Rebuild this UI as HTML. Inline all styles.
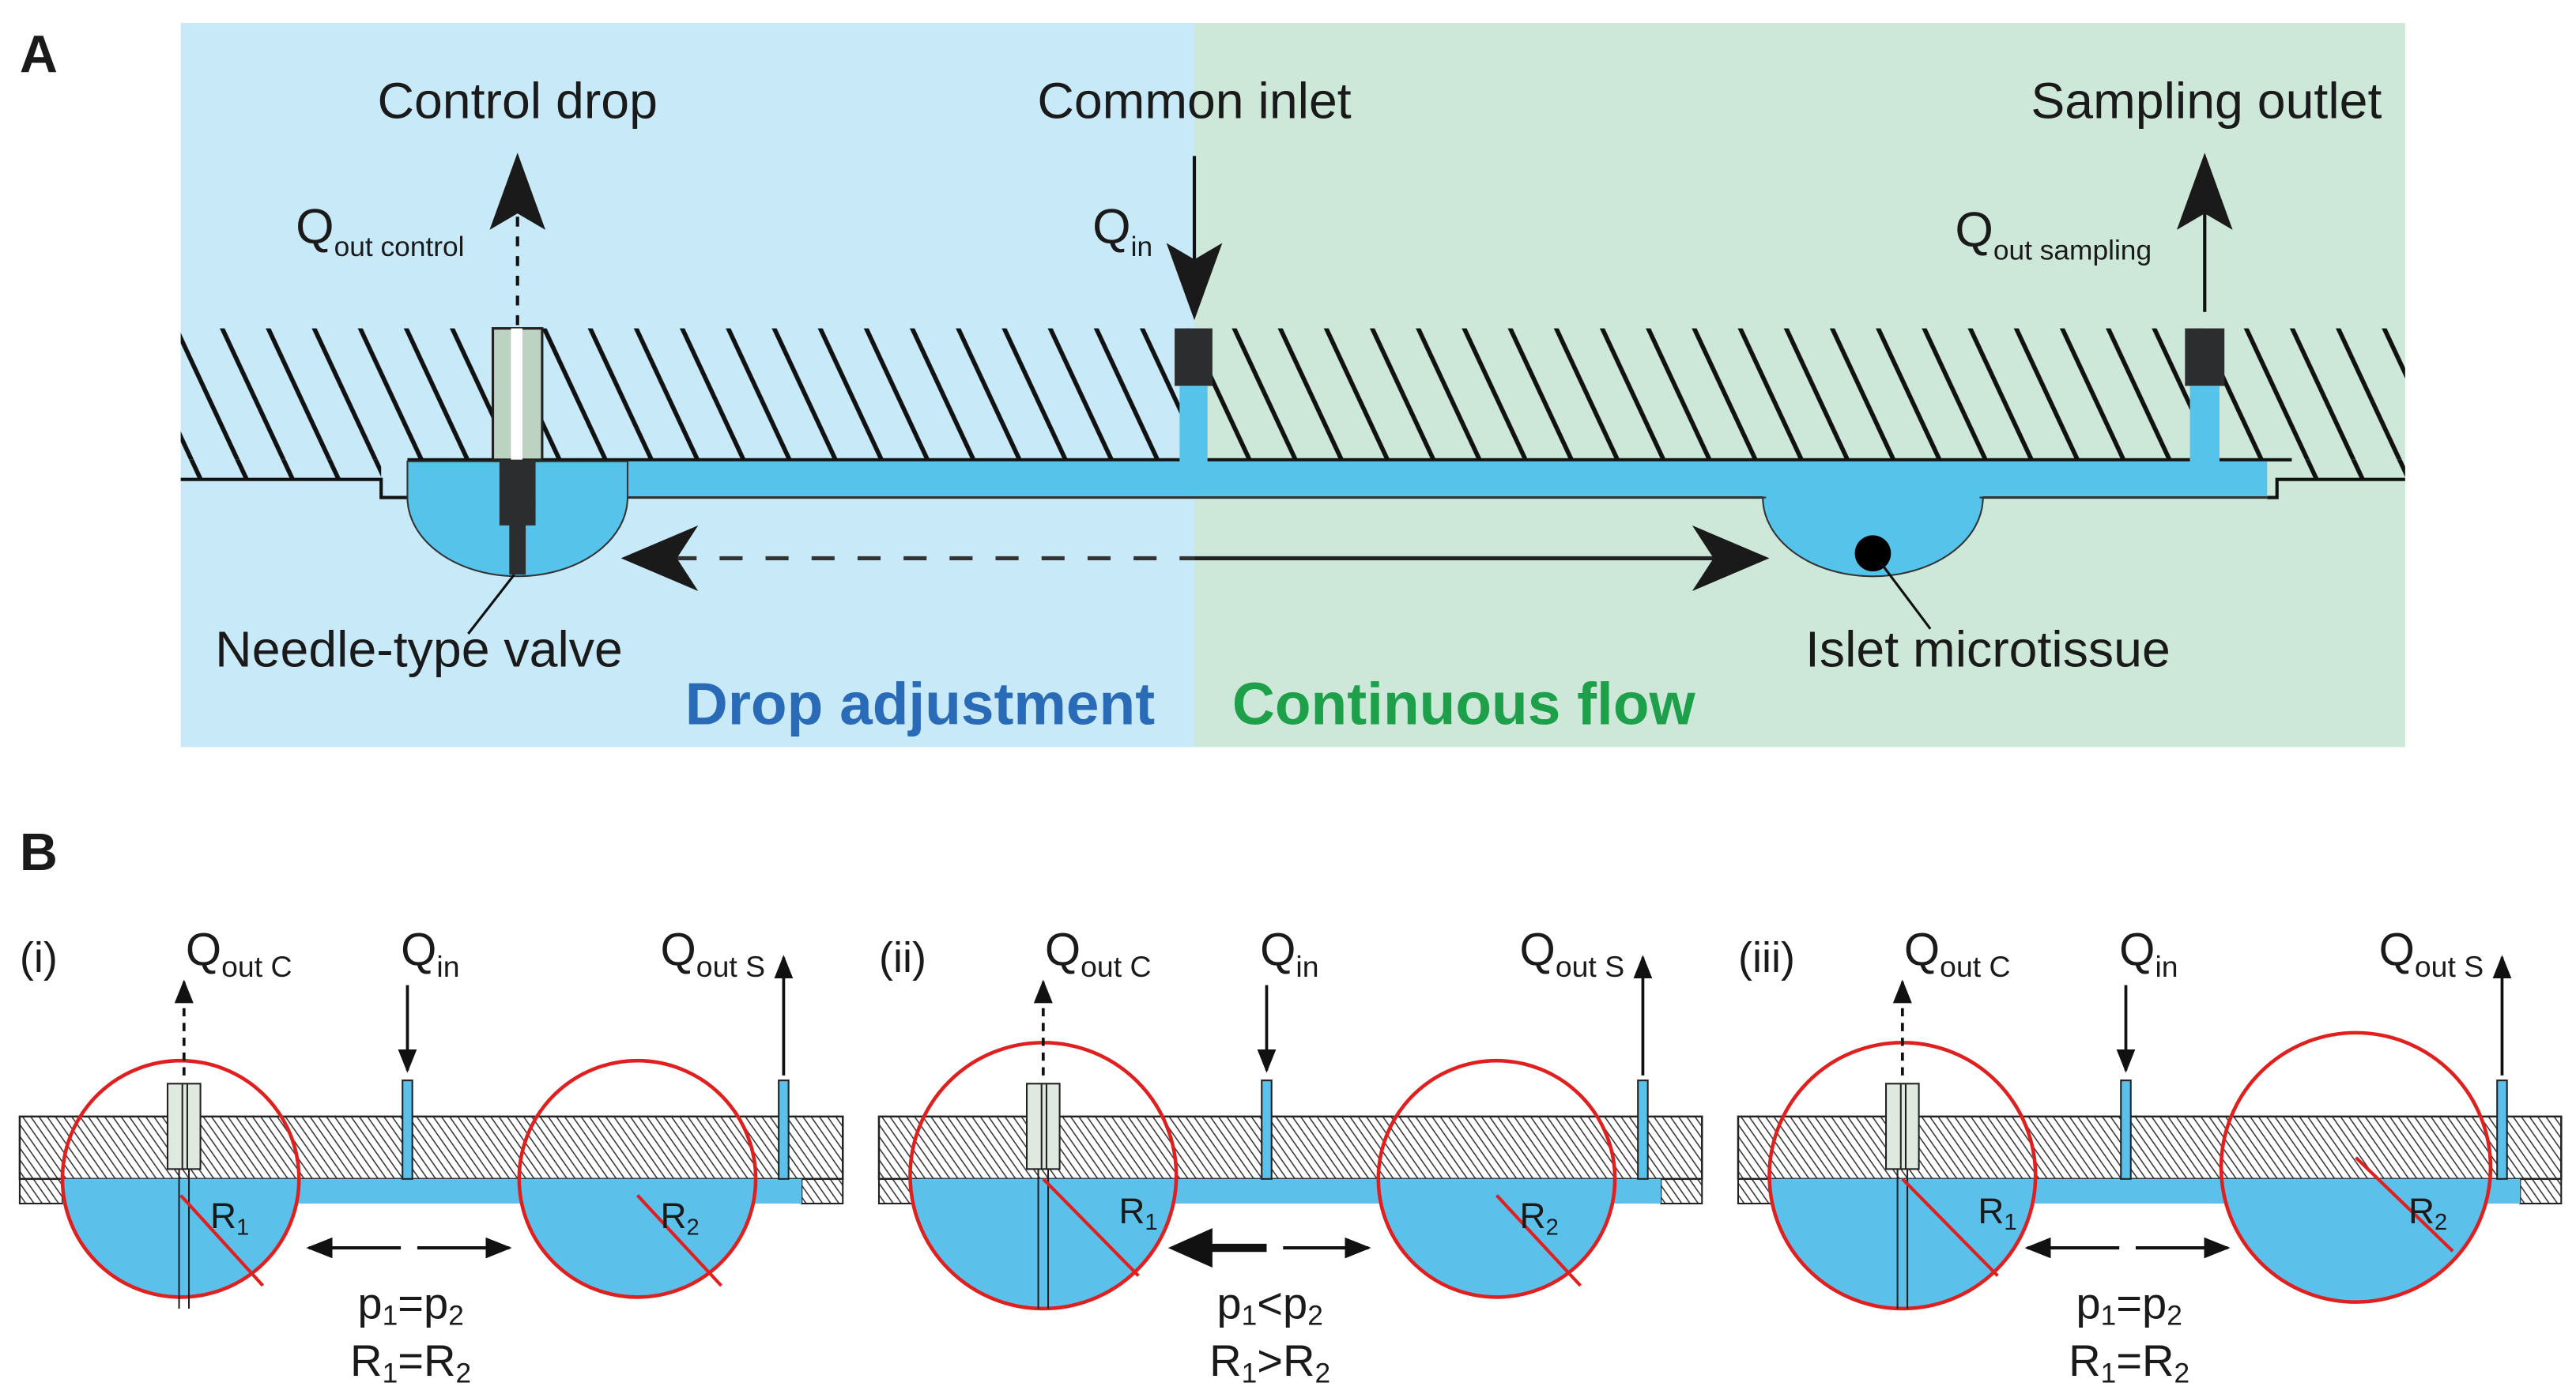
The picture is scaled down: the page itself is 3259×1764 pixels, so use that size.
<!DOCTYPE html>
<html><head><meta charset="utf-8"><style>
html,body{margin:0;padding:0;background:#fff}
svg{display:block}
text{font-family:"Liberation Sans",Arial,sans-serif;fill:#1a1a1a}
</style></head><body>
<svg width="3259" height="1764" viewBox="0 0 1568 849" preserveAspectRatio="none" xmlns="http://www.w3.org/2000/svg">
<defs>
<pattern id="hA" patternUnits="userSpaceOnUse" width="28" height="80" patternTransform="skewX(25)">
<line x1="14" y1="0" x2="14" y2="80" stroke="#111" stroke-width="3"/>
</pattern>
<pattern id="hB" patternUnits="userSpaceOnUse" width="5" height="60" patternTransform="skewX(35)">
<line x1="2.5" y1="0" x2="2.5" y2="60" stroke="#333" stroke-width="0.9"/>
</pattern>
<marker id="as" viewBox="0 0 10 10" refX="9" refY="5" markerWidth="8" markerHeight="8" orient="auto-start-reverse"><path d="M0,1 L10,5 L0,9z" fill="#111"/></marker>
<clipPath id="below"><rect x="0" y="718" width="1568" height="200"/></clipPath>
<g id="baseB">
<rect x="2" y="680" width="501" height="38" fill="url(#hB)" stroke="#222" stroke-width="1.2"/>
<rect x="2" y="718" width="26" height="15" fill="url(#hB)" stroke="#222" stroke-width="1"/>
<rect x="478" y="718" width="25" height="15" fill="url(#hB)" stroke="#222" stroke-width="1"/>
<rect x="28" y="718" width="450" height="15" fill="#5bc0ea"/>
<rect x="235" y="658" width="6" height="60" fill="#5bc0ea" stroke="#222" stroke-width="1"/>
<rect x="464" y="658" width="6" height="60" fill="#5bc0ea" stroke="#222" stroke-width="1"/>
</g>
<g id="needleB">
<rect x="92" y="660" width="20" height="52" fill="#dfe9df" stroke="#222" stroke-width="1"/>
<line x1="101" y1="660" x2="101" y2="712" stroke="#222"/><line x1="104" y1="660" x2="104" y2="712" stroke="#222"/>
<path d="M99,712 V797 M105,712 V797" stroke="#222" stroke-width="1"/>
</g>
</defs>

<!-- Panel A -->
<rect x="110" y="14" width="617" height="441" fill="#c8e9f8"/>
<rect x="727" y="14" width="737" height="441" fill="#cde8d8"/>
<rect x="110" y="200" width="1354" height="80" fill="url(#hA)"/>
<rect x="110" y="280" width="122" height="12" fill="url(#hA)"/>
<rect x="1395" y="280" width="69" height="12" fill="url(#hA)"/>
<path d="M110,292 H232 V303 H248 M1380,303 H1386 V292 H1464" fill="none" stroke="#111" stroke-width="2"/>
<line x1="248" y1="280" x2="1395" y2="280" stroke="#111" stroke-width="2"/>
<rect x="248" y="281" width="1132" height="22" fill="#55c3ea"/>
<path d="M248,281 H382 V303 A67,48 0 0 1 248,303 Z" fill="#55c3ea" stroke="#333" stroke-width="1"/>
<path d="M1073,303 H1207 A67,48 0 0 1 1073,303 Z" fill="#55c3ea" stroke="#333" stroke-width="1"/>
<rect x="250" y="282" width="130" height="25" fill="#55c3ea"/>
<rect x="1075" y="285" width="130" height="20" fill="#55c3ea"/>
<line x1="382" y1="303" x2="1073" y2="303" stroke="#333" stroke-width="1.5"/>
<line x1="1207" y1="303" x2="1380" y2="303" stroke="#333" stroke-width="1.5"/>
<rect x="300" y="200" width="30" height="80" fill="#bcd2c2" stroke="#222" stroke-width="1.5"/>
<rect x="311" y="200" width="7" height="80" fill="#fff"/>
<rect x="304" y="280" width="22" height="40" fill="#2b2d2f"/>
<rect x="310" y="318" width="10" height="32" fill="#2b2d2f"/>
<rect x="715" y="200" width="23" height="35" fill="#2b2d2f"/>
<rect x="718" y="235" width="17" height="47" fill="#55c3ea"/>
<rect x="1330" y="200" width="24" height="35" fill="#2b2d2f"/>
<rect x="1333" y="235" width="18" height="47" fill="#55c3ea"/>
<line x1="315" y1="198" x2="315" y2="120" stroke="#111" stroke-width="2" stroke-dasharray="6,6"/>
<path d="M315,93 L332,140 L315,130 L298,140 Z" fill="#1a1a1a"/>
<line x1="727" y1="95" x2="727" y2="170" stroke="#111" stroke-width="2"/>
<path d="M727,195 L710,148 L727,158 L744,148 Z" fill="#1a1a1a"/>
<line x1="1342" y1="190" x2="1342" y2="120" stroke="#111" stroke-width="2"/>
<path d="M1342,93 L1359,140 L1342,130 L1325,140 Z" fill="#1a1a1a"/>
<line x1="410" y1="340" x2="727" y2="340" stroke="#333" stroke-width="2.5" stroke-dasharray="14,14"/>
<line x1="727" y1="340" x2="1045" y2="340" stroke="#222" stroke-width="2.5"/>
<path d="M378,340 L425,320 L412,340 L425,360 Z" fill="#1a1a1a"/>
<path d="M1077,340 L1030,320 L1043,340 L1030,360 Z" fill="#1a1a1a"/>
<circle cx="1140" cy="337" r="11" fill="#000"/>
<line x1="1145" y1="343" x2="1175" y2="383" stroke="#111" stroke-width="1.5"/>
<line x1="313" y1="350" x2="285" y2="386" stroke="#111" stroke-width="1.5"/>
<text x="12" y="44" font-size="32" font-weight="bold">A</text>
<text x="315" y="72" font-size="31" text-anchor="middle">Control drop</text>
<text x="727" y="72" font-size="31" text-anchor="middle">Common inlet</text>
<text x="1343" y="72" font-size="31" text-anchor="middle">Sampling outlet</text>
<text x="180" y="148" font-size="30">Q<tspan font-size="17" dy="8">out control</tspan></text>
<text x="665" y="148" font-size="30">Q<tspan font-size="17" dy="8">in</tspan></text>
<text x="1190" y="150" font-size="30">Q<tspan font-size="17" dy="8">out sampling</tspan></text>
<text x="255" y="406" font-size="31" text-anchor="middle">Needle-type valve</text>
<text x="1210" y="406" font-size="31" text-anchor="middle">Islet microtissue</text>
<text x="703" y="441" font-size="36" font-weight="bold" text-anchor="end" style="fill:#2a6bb8">Drop adjustment</text>
<text x="750" y="441" font-size="36" font-weight="bold" style="fill:#1ea04b">Continuous flow</text>

<text x="12" y="530" font-size="32" font-weight="bold">B</text>

<g transform="translate(10,0)">
<use href="#baseB"/>
<circle cx="100" cy="718" r="72" fill="#5bc0ea" clip-path="url(#below)"/>
<circle cx="378" cy="718" r="72" fill="#5bc0ea" clip-path="url(#below)"/>
<circle cx="100" cy="718" r="72" fill="none" stroke="#e0201f" stroke-width="2.2"/>
<circle cx="378" cy="718" r="72" fill="none" stroke="#e0201f" stroke-width="2.2"/>
<use href="#needleB"/>
<line x1="100" y1="728" x2="150" y2="783" stroke="#e0201f" stroke-width="2"/>
<line x1="378" y1="728" x2="429" y2="783" stroke="#e0201f" stroke-width="2"/>
<text x="118" y="748" font-size="22">R<tspan font-size="14" dy="4">1</tspan></text>
<text x="392" y="748" font-size="22">R<tspan font-size="14" dy="4">2</tspan></text>
<line x1="102" y1="655" x2="102" y2="598" stroke="#111" stroke-width="1.8" stroke-dasharray="5,4" marker-end="url(#as)"/>
<line x1="238" y1="600" x2="238" y2="652" stroke="#111" stroke-width="1.8" marker-end="url(#as)"/>
<line x1="467" y1="655" x2="467" y2="583" stroke="#111" stroke-width="1.8" marker-end="url(#as)"/>
<line x1="178" y1="760" x2="234" y2="760" stroke="#111" stroke-width="2" marker-start="url(#as)"/>
<line x1="244" y1="760" x2="300" y2="760" stroke="#111" stroke-width="2" marker-end="url(#as)"/>
<text x="2" y="592" font-size="26">(i)</text>
<text x="103" y="588" font-size="28">Q<tspan font-size="18" dy="7">out C</tspan></text>
<text x="234" y="588" font-size="28">Q<tspan font-size="18" dy="7">in</tspan></text>
<text x="392" y="588" font-size="28">Q<tspan font-size="18" dy="7">out S</tspan></text>
<text x="240" y="803" font-size="27" text-anchor="middle">p<tspan font-size="17" dy="4">1</tspan><tspan dy="-4">=p</tspan><tspan font-size="17" dy="4">2</tspan></text>
<text x="240" y="838" font-size="27" text-anchor="middle">R<tspan font-size="17" dy="4">1</tspan><tspan dy="-4">=R</tspan><tspan font-size="17" dy="4">2</tspan></text>
</g>

<g transform="translate(533,0)">
<use href="#baseB"/>
<circle cx="102" cy="716" r="81" fill="#5bc0ea" clip-path="url(#below)"/>
<circle cx="378" cy="718" r="72" fill="#5bc0ea" clip-path="url(#below)"/>
<circle cx="102" cy="716" r="81" fill="none" stroke="#e0201f" stroke-width="2.2"/>
<circle cx="378" cy="718" r="72" fill="none" stroke="#e0201f" stroke-width="2.2"/>
<use href="#needleB"/>
<line x1="102" y1="718" x2="160" y2="777" stroke="#e0201f" stroke-width="2"/>
<line x1="378" y1="728" x2="429" y2="783" stroke="#e0201f" stroke-width="2"/>
<text x="148" y="745" font-size="22">R<tspan font-size="14" dy="4">1</tspan></text>
<text x="392" y="748" font-size="22">R<tspan font-size="14" dy="4">2</tspan></text>
<line x1="102" y1="655" x2="102" y2="598" stroke="#111" stroke-width="1.8" stroke-dasharray="5,4" marker-end="url(#as)"/>
<line x1="238" y1="600" x2="238" y2="652" stroke="#111" stroke-width="1.8" marker-end="url(#as)"/>
<line x1="467" y1="655" x2="467" y2="583" stroke="#111" stroke-width="1.8" marker-end="url(#as)"/>
<line x1="200" y1="760" x2="238" y2="760" stroke="#111" stroke-width="5"/>
<path d="M178,760 L205,748 L205,772 Z" fill="#111"/>
<line x1="248" y1="760" x2="300" y2="760" stroke="#111" stroke-width="2" marker-end="url(#as)"/>
<text x="2" y="592" font-size="26">(ii)</text>
<text x="103" y="588" font-size="28">Q<tspan font-size="18" dy="7">out C</tspan></text>
<text x="234" y="588" font-size="28">Q<tspan font-size="18" dy="7">in</tspan></text>
<text x="392" y="588" font-size="28">Q<tspan font-size="18" dy="7">out S</tspan></text>
<text x="240" y="803" font-size="27" text-anchor="middle">p<tspan font-size="17" dy="4">1</tspan><tspan dy="-4">&lt;p</tspan><tspan font-size="17" dy="4">2</tspan></text>
<text x="240" y="838" font-size="27" text-anchor="middle">R<tspan font-size="17" dy="4">1</tspan><tspan dy="-4">&gt;R</tspan><tspan font-size="17" dy="4">2</tspan></text>
</g>

<g transform="translate(1056,0)">
<use href="#baseB"/>
<circle cx="102" cy="716" r="81" fill="#5bc0ea" clip-path="url(#below)"/>
<circle cx="378" cy="711" r="82" fill="#5bc0ea" clip-path="url(#below)"/>
<circle cx="102" cy="716" r="81" fill="none" stroke="#e0201f" stroke-width="2.2"/>
<circle cx="378" cy="711" r="82" fill="none" stroke="#e0201f" stroke-width="2.2"/>
<use href="#needleB"/>
<line x1="102" y1="718" x2="160" y2="777" stroke="#e0201f" stroke-width="2"/>
<line x1="378" y1="705" x2="437" y2="762" stroke="#e0201f" stroke-width="2"/>
<text x="148" y="745" font-size="22">R<tspan font-size="14" dy="4">1</tspan></text>
<text x="410" y="745" font-size="22">R<tspan font-size="14" dy="4">2</tspan></text>
<line x1="102" y1="655" x2="102" y2="598" stroke="#111" stroke-width="1.8" stroke-dasharray="5,4" marker-end="url(#as)"/>
<line x1="238" y1="600" x2="238" y2="652" stroke="#111" stroke-width="1.8" marker-end="url(#as)"/>
<line x1="467" y1="655" x2="467" y2="583" stroke="#111" stroke-width="1.8" marker-end="url(#as)"/>
<line x1="178" y1="760" x2="234" y2="760" stroke="#111" stroke-width="2" marker-start="url(#as)"/>
<line x1="244" y1="760" x2="300" y2="760" stroke="#111" stroke-width="2" marker-end="url(#as)"/>
<text x="2" y="592" font-size="26">(iii)</text>
<text x="103" y="588" font-size="28">Q<tspan font-size="18" dy="7">out C</tspan></text>
<text x="234" y="588" font-size="28">Q<tspan font-size="18" dy="7">in</tspan></text>
<text x="392" y="588" font-size="28">Q<tspan font-size="18" dy="7">out S</tspan></text>
<text x="240" y="803" font-size="27" text-anchor="middle">p<tspan font-size="17" dy="4">1</tspan><tspan dy="-4">=p</tspan><tspan font-size="17" dy="4">2</tspan></text>
<text x="240" y="838" font-size="27" text-anchor="middle">R<tspan font-size="17" dy="4">1</tspan><tspan dy="-4">=R</tspan><tspan font-size="17" dy="4">2</tspan></text>
</g>
</svg>
</body></html>
